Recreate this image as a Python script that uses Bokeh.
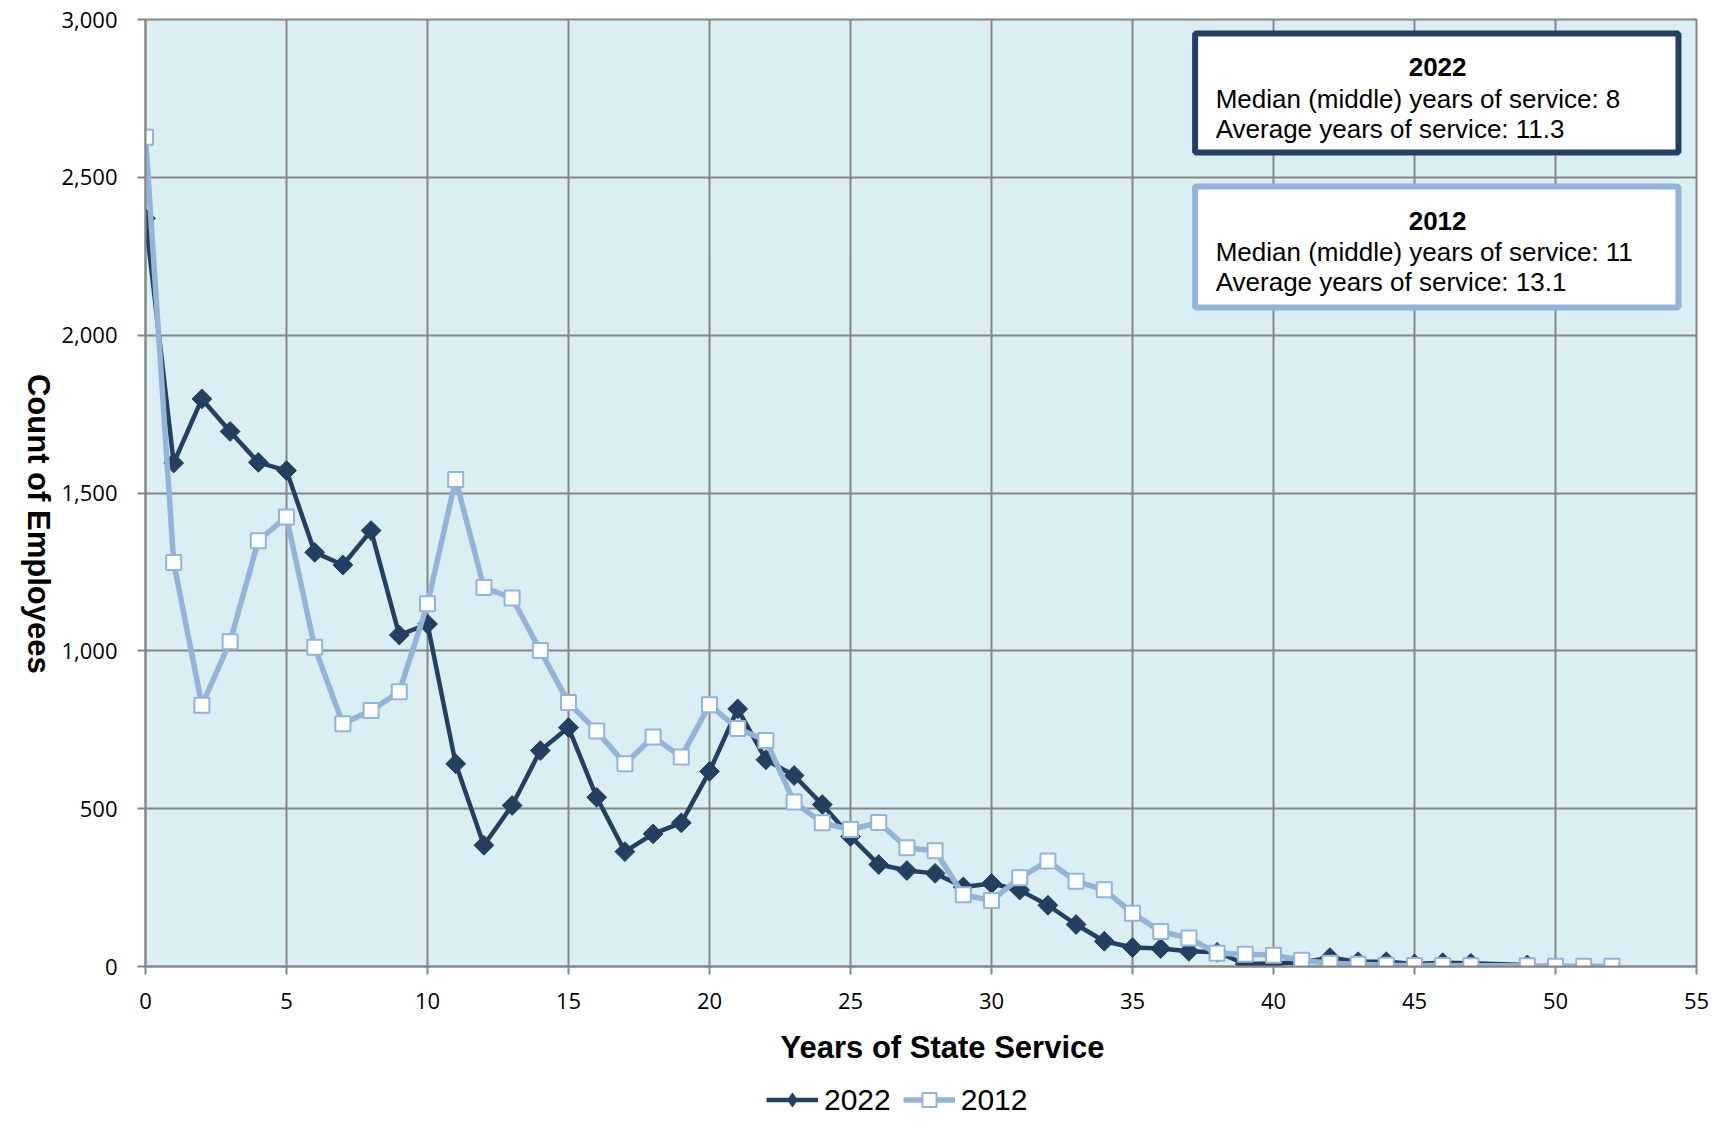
import numpy as np
from bokeh.plotting import figure
from bokeh.layouts import column
from bokeh.models import (Label, BoxAnnotation, Legend, LegendItem,
                          NumeralTickFormatter, FixedTicker, Range1d)
from bokeh.embed import file_html
from bokeh.resources import INLINE

# ---------------- data ----------------
years_2022 = list(range(0, 48)) + [49]
count_2022 = [2370, 1595, 1798, 1695, 1597, 1571, 1312, 1272, 1381, 1050,
              1085, 642, 384, 510, 684, 757, 536, 364, 420, 455,
              618, 816, 655, 605, 513, 412, 323, 304, 295, 252,
              263, 242, 194, 133, 80, 60, 57, 48, 45, 8,
              10, 13, 28, 15, 15, 8, 12, 10, 5]

years_2012 = list(range(0, 48)) + [49, 50, 51, 52]
count_2012 = [2627, 1280, 828, 1029, 1349, 1424, 1011, 769, 811, 870,
              1149, 1543, 1201, 1167, 1001, 836, 746, 642, 727, 664,
              829, 754, 716, 521, 455, 434, 456, 376, 367, 227,
              209, 281, 334, 270, 243, 169, 111, 90, 42, 39,
              36, 20, 10, 7, 4, 3, 3, 2, 2, 1, 1, 1]

x_ticks = list(range(0, 56, 5))
y_ticks = list(range(0, 3001, 500))

x_title = "Years of State Service"
y_title = "Count of Employees"
series_names = ["2022", "2012"]
box_2022 = ["2022", "Median (middle) years of service: 8", "Average years of service: 11.3"]
box_2012 = ["2012", "Median (middle) years of service: 11", "Average years of service: 13.1"]

DARK = "#243F60"
LIGHT = "#95B3D7"
GRID = "#868686"
BG = "#DBEEF4"
NBSP = "\u00a0"

# ---------------- main figure ----------------
p = figure(width=1713, height=1082, output_backend="svg", toolbar_location=None,
           x_range=Range1d(0, 55), y_range=Range1d(0, 3000),
           min_border_left=144, min_border_right=17, min_border_top=19,
           min_border_bottom=116)
p.background_fill_color = BG
p.border_fill_color = "white"
p.outline_line_color = GRID
p.outline_line_width = 2

p.xaxis.ticker = FixedTicker(ticks=x_ticks)
p.yaxis.ticker = FixedTicker(ticks=y_ticks)
p.yaxis.formatter = NumeralTickFormatter(format="0,0")
for ax in (p.xaxis[0], p.yaxis[0]):
    ax.axis_line_color = GRID
    ax.axis_line_width = 2
    ax.major_tick_line_color = GRID
    ax.major_tick_line_width = 2
    ax.major_tick_out = 8
    ax.major_tick_in = 0
    ax.minor_tick_line_color = None
    ax.major_label_text_font = "Open Sans"
    ax.major_label_text_font_size = "22px"
    ax.major_label_text_color = "black"
    ax.axis_label_text_font = "Liberation Sans"
    ax.axis_label_text_font_style = "bold"
    ax.axis_label_text_font_size = "31px"
    ax.axis_label_text_color = "black"
p.yaxis.major_label_standoff = 20
p.xaxis.major_label_standoff = 18
# leading no-break spaces nudge the centred title to the right like the reference
p.xaxis.axis_label = NBSP * 5 + x_title
p.xaxis.axis_label_standoff = 18
yax = p.yaxis[0]
yax.axis_label_standoff = 20
if "axis_label_orientation" in yax.properties():
    yax.axis_label_orientation = -np.pi / 2
    yax.axis_label_align = "start"
    yax.axis_label = y_title + NBSP * 34
else:
    yax.axis_label = y_title

p.xgrid.grid_line_color = GRID
p.ygrid.grid_line_color = GRID
p.xgrid.grid_line_width = 2
p.ygrid.grid_line_width = 2

# ---------------- series ----------------
p.line(years_2022, count_2022, line_color=DARK, line_width=4.5)
p.scatter(years_2022, count_2022, marker="square", angle=np.pi / 4,
          size=14, fill_color=DARK, line_color=DARK, line_width=1)
p.line(years_2012, count_2012, line_color=LIGHT, line_width=5.5)
p.scatter(years_2012, count_2012, marker="square", size=15,
          fill_color="white", line_color=LIGHT, line_width=2)

# ---------------- info boxes ----------------
p.add_layout(BoxAnnotation(left=37.22, right=54.36, top=2956, bottom=2579,
                           fill_color="white", fill_alpha=1, line_color=DARK,
                           line_alpha=1, line_width=6))
p.add_layout(BoxAnnotation(left=37.22, right=54.36, top=2471, bottom=2088,
                           fill_color="white", fill_alpha=1, line_color=LIGHT,
                           line_alpha=1, line_width=6))

def box_text(lines, ys):
    p.add_layout(Label(x=45.82, y=ys[0], text=lines[0], text_align="center",
                       text_baseline="alphabetic", text_font="Liberation Sans",
                       text_font_style="bold", text_font_size="26px", text_color="black"))
    for t, yy in zip(lines[1:], ys[1:]):
        p.add_layout(Label(x=37.95, y=yy, text=t, text_align="left",
                           text_baseline="alphabetic", text_font="Liberation Sans",
                           text_font_size="26px", text_color="black"))

box_text(box_2022, [2849, 2749, 2654])
box_text(box_2012, [2363, 2263, 2168])

# ---------------- legend strip ----------------
# the series are drawn again here, outside this strip's visible range,
# only so that the legend can show their glyphs
lg = figure(width=1713, height=35, output_backend="svg", toolbar_location=None,
            x_range=Range1d(-200, -199), y_range=Range1d(-200, -199),
            x_axis_type=None, y_axis_type=None, min_border=0)
lg.grid.visible = False
lg.outline_line_color = None
lg.background_fill_color = "white"
lg.border_fill_color = "white"
k22l = lg.line(years_2022, count_2022, line_color=DARK, line_width=4.5)
k22m = lg.scatter(years_2022, count_2022, marker="diamond",
                  size=14, fill_color=DARK, line_color=DARK)
k12l = lg.line(years_2012, count_2012, line_color=LIGHT, line_width=5.5)
k12m = lg.scatter(years_2012, count_2012, marker="square", size=15,
                  fill_color="white", line_color=LIGHT, line_width=2)
legend = Legend(items=[LegendItem(label=series_names[0], renderers=[k22l, k22m]),
                       LegendItem(label=series_names[1], renderers=[k12l, k12m])],
                orientation="horizontal", location=(621, 0),
                padding=0, margin=0, spacing=12, label_standoff=6,
                glyph_width=52, glyph_height=35, label_height=35,
                label_text_font="Liberation Sans", label_text_font_size="30px",
                label_text_color="black",
                border_line_color=None, background_fill_alpha=0)
lg.add_layout(legend, "center")

open("out.html", "w").write(file_html(column(p, lg), INLINE))
